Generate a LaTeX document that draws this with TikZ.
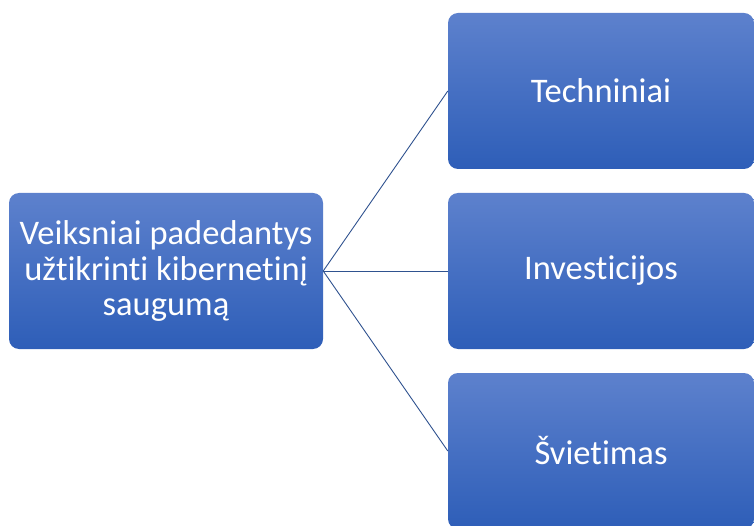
\documentclass[tikz,border=0pt]{standalone}
\usepackage{fontspec}
\setmainfont[Ligatures=NoCommon]{Carlito}
\definecolor{boxtop}{RGB}{93,129,205}
\definecolor{boxbot}{RGB}{46,94,184}
\definecolor{linkcol}{RGB}{47,82,143}
\tikzset{
  factorbox/.style={rounded corners=10pt, top color=boxtop, bottom color=boxbot,
    draw=none, text=white, align=center, inner sep=0pt,
    font=\fontsize{34.5}{35.5}\selectfont},
  link/.style={draw=linkcol, line width=0.9pt}
}
\begin{document}
\begin{tikzpicture}[x=1pt,y=-1pt]
  \useasboundingbox (0,0) rectangle (754,526);
  \node[factorbox, minimum width=314pt, minimum height=156pt] (root) at (166,271)
    {Veiksniai padedantys\\užtikrinti kibernetinį\\saugumą};
  \node[factorbox, minimum width=306pt, minimum height=156pt] (tech) at (601,91) {Techniniai};
  \node[factorbox, minimum width=306pt, minimum height=156pt] (inv) at (601,271) {Investicijos};
  \node[factorbox, minimum width=306pt, minimum height=156pt] (edu) at (601,451) {Švietimas};
  \draw[link] (root.east) -- (tech.west);
  \draw[link] (root.east) -- (inv.west);
  \draw[link] (root.east) -- (edu.west);
\end{tikzpicture}
\end{document}
